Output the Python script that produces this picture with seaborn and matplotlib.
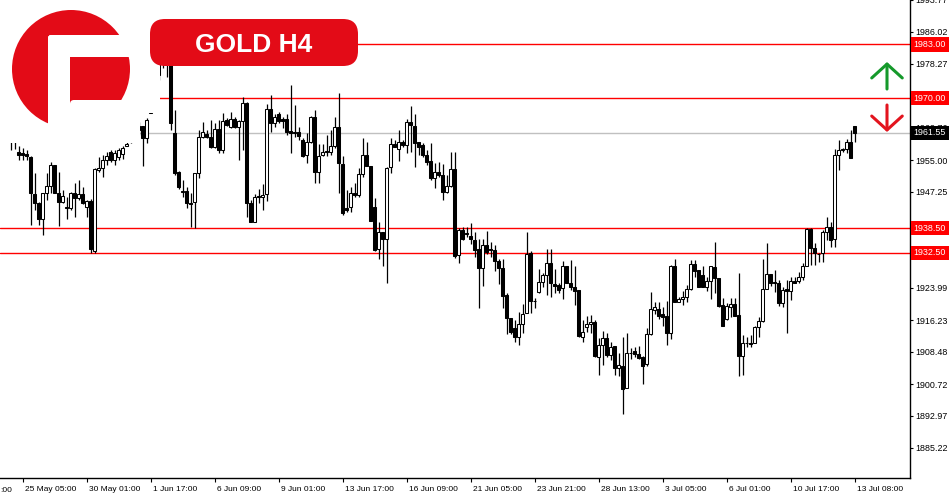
import numpy as np
import pandas as pd
import seaborn as sns
import matplotlib
matplotlib.use("Agg")
import matplotlib.pyplot as plt
import matplotlib.patches as mpatches
import matplotlib.transforms as mtransforms

# GOLD H4 candles (oldest first)
opens = [
    1960.3, 1961.8, 1962.3, 1960.8, 1957.0, 1956.7, 1956.5, 1955.7, 1946.8, 1944.6,
    1940.7, 1947.0, 1948.7, 1953.8, 1947.0, 1944.8, 1943.4, 1943.4, 1947.0, 1945.8,
    1946.8, 1943.6, 1945.1, 1932.9, 1952.6, 1953.1, 1955.0, 1956.9, 1955.0, 1955.7,
    1956.5, 1958.4, 1959.4, 1960.8, 1962.3, 1963.2, 1960.3, 1966.4, 1970.8, 1975.6,
    1979.2, 1982.9, 1983.6, 1961.5, 1952.1, 1947.3, 1947.5, 1944.6, 1944.8, 1951.9,
    1960.6, 1961.3, 1960.6, 1958.2, 1962.5, 1957.4, 1964.7, 1963.1, 1964.9, 1963.1,
    1964.5, 1968.7, 1944.5, 1940.0, 1946.3, 1946.0, 1946.7, 1967.3, 1963.9, 1966.1,
    1964.9, 1964.9, 1962.0, 1961.7, 1961.7, 1959.9, 1956.1, 1959.4, 1965.3, 1952.0,
    1956.1, 1957.2, 1956.9, 1958.4, 1963.1, 1954.0, 1943.3, 1943.7, 1947.1, 1946.4,
    1951.6, 1956.2, 1953.5, 1943.5, 1933.4, 1937.6, 1935.8, 1953.2, 1958.9, 1957.6,
    1959.3, 1958.6, 1964.3, 1963.2, 1959.3, 1958.6, 1956.2, 1954.8, 1950.6, 1952.2,
    1951.4, 1947.2, 1948.8, 1952.8, 1932.0, 1938.0, 1937.3, 1936.6, 1935.6, 1933.4,
    1928.8, 1934.4, 1933.4, 1933.2, 1930.6, 1928.8, 1922.3, 1916.6, 1914.2, 1912.2,
    1915.3, 1918.0, 1932.5, 1920.9, 1923.1, 1925.5, 1927.1, 1930.0, 1924.9, 1924.7,
    1923.9, 1929.3, 1925.3, 1924.3, 1923.5, 1912.2, 1914.6, 1915.2, 1915.8, 1907.3,
    1910.2, 1911.8, 1907.8, 1909.9, 1904.7, 1905.1, 1899.7, 1908.2, 1908.7, 1908.0,
    1907.3, 1905.5, 1912.8, 1918.7, 1918.8, 1917.7, 1917.2, 1913.2, 1929.2, 1920.7,
    1921.3, 1921.7, 1923.7, 1929.7, 1928.3, 1927.1, 1924.2, 1925.7, 1929.0, 1926.3,
    1919.9, 1916.4, 1919.3, 1920.0, 1917.4, 1907.5, 1910.7, 1910.7, 1910.7, 1914.5,
    1916.1, 1923.7, 1927.4, 1925.5, 1925.1, 1920.4, 1923.7, 1923.3, 1925.7, 1925.7,
    1926.7, 1929.2, 1938.3, 1933.6, 1932.3, 1932.4, 1937.6, 1938.8, 1935.8, 1956.2,
    1957.4, 1957.7, 1959.4, 1963.2]
highs = [
    1962.3, 1962.8, 1962.8, 1961.8, 1958.4, 1957.9, 1957.4, 1956.0, 1951.9, 1944.8,
    1947.0, 1951.9, 1954.5, 1953.8, 1952.1, 1947.7, 1946.0, 1947.3, 1949.4, 1950.2,
    1948.5, 1945.3, 1945.5, 1953.1, 1955.7, 1956.2, 1956.9, 1957.4, 1957.4, 1957.9,
    1958.4, 1959.9, 1961.8, 1963.2, 1964.2, 1963.2, 1965.2, 1972.0, 1976.8, 1981.7,
    1984.1, 1984.6, 1984.6, 1967.1, 1952.3, 1950.2, 1948.5, 1947.0, 1951.9, 1962.3,
    1964.2, 1962.3, 1964.7, 1964.0, 1964.7, 1966.4, 1965.2, 1966.7, 1965.5, 1964.7,
    1970.3, 1969.1, 1945.2, 1946.8, 1948.0, 1949.2, 1968.6, 1970.8, 1966.1, 1966.6,
    1965.5, 1966.1, 1973.2, 1968.3, 1962.9, 1960.3, 1961.5, 1965.7, 1967.1, 1958.8,
    1958.8, 1961.1, 1962.3, 1965.3, 1971.2, 1956.0, 1947.7, 1948.5, 1949.5, 1953.0,
    1960.3, 1959.4, 1953.5, 1945.7, 1940.0, 1937.6, 1953.4, 1960.3, 1959.9, 1962.3,
    1959.9, 1964.9, 1968.1, 1966.1, 1959.3, 1959.0, 1957.4, 1959.0, 1954.2, 1954.6,
    1954.0, 1951.4, 1957.0, 1957.0, 1938.5, 1938.8, 1938.8, 1939.7, 1937.6, 1935.8,
    1935.8, 1937.9, 1935.2, 1934.4, 1930.9, 1930.9, 1922.7, 1916.6, 1916.2, 1918.2,
    1920.1, 1937.6, 1933.0, 1921.5, 1928.5, 1927.5, 1933.4, 1933.4, 1928.5, 1925.1,
    1930.6, 1929.3, 1930.8, 1929.2, 1923.5, 1916.2, 1917.2, 1917.4, 1916.2, 1911.8,
    1913.6, 1913.2, 1911.0, 1909.9, 1908.2, 1912.2, 1913.2, 1909.4, 1909.6, 1909.9,
    1907.5, 1914.2, 1922.9, 1920.7, 1920.7, 1919.5, 1920.8, 1929.6, 1931.0, 1921.9,
    1923.3, 1924.7, 1930.8, 1930.8, 1928.3, 1929.2, 1926.6, 1929.3, 1935.2, 1926.3,
    1921.5, 1920.3, 1921.5, 1921.5, 1927.5, 1912.6, 1912.0, 1912.6, 1914.8, 1916.9,
    1930.9, 1934.9, 1927.4, 1928.3, 1925.9, 1924.2, 1925.9, 1926.7, 1926.7, 1927.8,
    1930.0, 1938.5, 1938.5, 1934.8, 1932.5, 1938.0, 1941.3, 1940.0, 1957.6, 1959.9,
    1957.8, 1960.0, 1962.3, 1963.2]
lows = [
    1959.8, 1960.3, 1957.4, 1957.7, 1955.0, 1955.0, 1955.0, 1939.3, 1942.9, 1939.3,
    1936.8, 1945.3, 1947.0, 1947.0, 1939.0, 1944.6, 1940.7, 1942.9, 1941.2, 1945.3,
    1944.3, 1941.2, 1932.5, 1932.5, 1952.1, 1950.9, 1953.8, 1954.5, 1953.8, 1955.0,
    1955.2, 1958.4, 1959.1, 1959.8, 1961.1, 1953.6, 1959.1, 1966.4, 1969.5, 1974.4,
    1977.3, 1975.1, 1962.3, 1951.4, 1948.0, 1946.0, 1943.4, 1938.8, 1938.5, 1950.6,
    1960.3, 1960.3, 1957.9, 1957.9, 1956.7, 1956.7, 1963.2, 1962.7, 1962.7, 1955.0,
    1957.4, 1941.1, 1940.0, 1940.0, 1944.7, 1942.9, 1945.1, 1961.9, 1963.1, 1964.0,
    1962.7, 1961.1, 1956.8, 1960.5, 1959.9, 1955.8, 1954.3, 1959.0, 1949.5, 1949.5,
    1956.0, 1956.0, 1956.2, 1957.8, 1947.0, 1941.7, 1942.5, 1942.5, 1946.1, 1946.0,
    1951.0, 1953.5, 1940.3, 1933.0, 1930.9, 1929.2, 1925.1, 1951.8, 1958.1, 1954.8,
    1958.2, 1956.6, 1956.9, 1953.4, 1956.2, 1955.8, 1953.8, 1950.2, 1948.1, 1951.0,
    1945.3, 1947.0, 1948.5, 1931.2, 1930.0, 1935.6, 1936.3, 1934.7, 1931.4, 1919.2,
    1924.5, 1932.2, 1931.4, 1928.2, 1924.9, 1919.2, 1912.8, 1912.8, 1911.0, 1910.2,
    1913.2, 1918.0, 1918.0, 1919.1, 1922.7, 1924.2, 1922.3, 1921.7, 1922.7, 1922.8,
    1921.3, 1925.1, 1923.5, 1919.9, 1912.2, 1911.0, 1913.4, 1913.0, 1907.3, 1902.9,
    1905.3, 1907.3, 1906.5, 1902.9, 1902.7, 1893.5, 1899.7, 1906.7, 1907.2, 1906.9,
    1900.7, 1905.1, 1912.6, 1917.8, 1916.4, 1914.8, 1910.2, 1911.6, 1920.7, 1920.7,
    1919.9, 1920.7, 1923.5, 1926.6, 1924.2, 1924.2, 1923.3, 1921.3, 1922.7, 1919.3,
    1914.8, 1916.2, 1917.0, 1917.2, 1902.7, 1902.9, 1909.8, 1909.8, 1910.6, 1912.2,
    1915.8, 1923.7, 1924.5, 1923.1, 1919.6, 1919.5, 1913.0, 1921.1, 1925.1, 1925.2,
    1925.9, 1929.2, 1929.6, 1929.6, 1930.4, 1930.4, 1935.6, 1934.0, 1934.0, 1952.6,
    1957.0, 1956.6, 1955.4, 1959.4]
closes = [
    1961.8, 1962.3, 1960.8, 1959.8, 1956.2, 1956.2, 1956.0, 1947.0, 1944.6, 1940.7,
    1947.0, 1948.7, 1953.8, 1947.0, 1944.8, 1946.3, 1943.6, 1947.0, 1945.8, 1946.8,
    1944.6, 1945.1, 1933.4, 1952.8, 1953.1, 1955.0, 1956.0, 1955.0, 1956.7, 1957.4,
    1957.9, 1958.9, 1960.8, 1962.3, 1963.2, 1960.3, 1964.7, 1970.8, 1975.6, 1979.2,
    1982.9, 1983.6, 1964.0, 1951.9, 1948.5, 1947.5, 1944.6, 1944.3, 1951.9, 1960.6,
    1961.8, 1960.6, 1958.2, 1962.5, 1957.4, 1964.5, 1963.5, 1964.9, 1963.1, 1964.5,
    1968.7, 1944.7, 1940.0, 1946.0, 1946.0, 1946.5, 1967.3, 1964.0, 1965.3, 1964.5,
    1964.5, 1961.9, 1961.6, 1961.6, 1960.9, 1956.0, 1959.4, 1965.3, 1952.2, 1956.0,
    1956.9, 1956.9, 1958.4, 1963.1, 1954.2, 1942.1, 1942.9, 1947.0, 1946.4, 1951.6,
    1956.2, 1953.5, 1940.3, 1933.2, 1937.6, 1935.9, 1953.0, 1958.9, 1958.2, 1959.3,
    1958.6, 1964.3, 1963.5, 1959.2, 1958.1, 1956.2, 1954.6, 1950.6, 1952.2, 1951.3,
    1947.2, 1948.8, 1952.8, 1931.7, 1938.0, 1935.8, 1937.1, 1935.8, 1933.2, 1928.8,
    1934.4, 1932.8, 1933.3, 1930.6, 1928.8, 1922.0, 1916.6, 1913.4, 1912.2, 1915.3,
    1917.8, 1932.2, 1920.9, 1920.8, 1925.4, 1927.1, 1930.0, 1925.1, 1924.5, 1923.5,
    1929.3, 1925.1, 1924.3, 1923.3, 1912.4, 1913.4, 1915.3, 1915.8, 1907.5, 1910.2,
    1911.8, 1907.8, 1909.8, 1904.7, 1905.3, 1899.5, 1908.2, 1908.3, 1908.0, 1907.1,
    1905.1, 1912.8, 1918.9, 1919.5, 1917.2, 1917.0, 1913.2, 1929.3, 1920.7, 1921.3,
    1921.9, 1923.7, 1929.7, 1928.2, 1924.2, 1924.2, 1925.7, 1929.2, 1926.3, 1919.6,
    1914.8, 1919.6, 1920.0, 1917.2, 1907.5, 1910.7, 1910.7, 1910.4, 1914.6, 1916.1,
    1923.7, 1927.4, 1925.3, 1925.1, 1920.4, 1923.5, 1923.3, 1925.7, 1925.1, 1926.7,
    1929.2, 1938.3, 1933.6, 1932.4, 1932.2, 1937.6, 1938.7, 1935.6, 1956.2, 1957.4,
    1957.7, 1959.4, 1955.4, 1961.55]

date_labels = ["25 May 05:00", "30 May 01:00", "1 Jun 17:00", "6 Jun 09:00",
               "9 Jun 01:00", "13 Jun 17:00", "16 Jun 09:00", "21 Jun 05:00",
               "23 Jun 21:00", "28 Jun 13:00", "3 Jul 05:00", "6 Jul 01:00",
               "10 Jul 17:00", "13 Jul 08:00"]
price_ticks = [1993.77, 1986.02, 1978.27, 1970.51, 1962.76, 1955.00, 1947.25,
               1939.49, 1931.74, 1923.99, 1916.23, 1908.48, 1900.72, 1892.97, 1885.22]
levels = [1983.00, 1970.00, 1938.50, 1932.50]
last_price = 1961.55
title = "GOLD H4"

sns.set_theme(style="white")
plt.rcParams['font.family'] = ['Liberation Sans', 'DejaVu Sans']

df = pd.DataFrame({"open": opens, "high": highs, "low": lows, "close": closes})
df["idx"] = np.arange(len(df))
df["up"] = df["close"] >= df["open"]

RED = "#e30b17"
LINE_RED = "#ff0000"

fig = plt.figure(figsize=(9.5, 5), dpi=100, facecolor="white")
ax = fig.add_axes([0, 22 / 500, 910 / 950, 478 / 500])
ax.set_facecolor("white")

# wicks then bodies
ax.vlines(df["idx"], df["low"], df["high"], color="black", lw=0.9, zorder=2)
ax.bar(df["idx"], (df["close"] - df["open"]).abs(),
       bottom=df[["open", "close"]].min(axis=1), width=0.7,
       color=np.where(df["up"], "white", "black"), edgecolor="black",
       linewidth=0.75, zorder=3)

for lvl in levels:
    ax.axhline(lvl, color=LINE_RED, lw=1, zorder=1)
ax.axhline(last_price, color="#c0c0c0", lw=1, zorder=1)

ax.set_xlim(-0.625, 226.875)
ax.set_ylim(1993.77 - 478 * 0.24231, 1993.77)

# axes styling (MT4 look)
for s in ["left", "top"]:
    ax.spines[s].set_visible(False)
for s in ["right", "bottom"]:
    ax.spines[s].set_color("black")
    ax.spines[s].set_linewidth(1)

ax.yaxis.tick_right()
ax.set_yticks(price_ticks)
ax.set_yticklabels([f"{v:.2f}" for v in price_ticks])
ax.tick_params(axis="y", right=True, left=False, length=2.5, width=0.8,
               pad=1.5, labelsize=6.4, colors="black")
xpos = [5 + 16 * k for k in range(len(date_labels))]
ax.set_xticks(xpos)
ax.set_xticklabels(date_labels)
ax.tick_params(axis="x", bottom=True, length=3, width=0.8, pad=2.5,
               labelsize=6.0, colors="black")
shift = mtransforms.ScaledTranslation(2.0 / 72, 0, fig.dpi_scale_trans)
for lab in ax.get_xticklabels():
    lab.set_horizontalalignment("left")
    lab.set_transform(lab.get_transform() + shift)

# price tags on the right axis
trans = mtransforms.blended_transform_factory(ax.transAxes, ax.transData)
for lvl in levels:
    ax.text(1 + 20 / 910, lvl, f"{lvl:.2f}", transform=trans, ha="center",
            va="center", color="white", fontsize=6.4, clip_on=False, zorder=10,
            bbox=dict(boxstyle="square,pad=0.3", fc=LINE_RED, ec="none"))
ax.text(1 + 20 / 910, last_price, f"{last_price:.2f}", transform=trans,
        ha="center", va="center", color="white", fontsize=6.4, clip_on=False,
        zorder=10, bbox=dict(boxstyle="square,pad=0.3", fc="black", ec="none"))

# overlay in pixel coordinates: logo, title badge, arrows
ov = fig.add_axes([0, 0, 1, 1], zorder=5)
ov.set_xlim(0, 950)
ov.set_ylim(500, 0)
ov.axis("off")
ov.patch.set_alpha(0)

ov.add_patch(mpatches.Polygon([(0, 0), (160, 0), (160, 113), (140, 113),
                               (140, 143), (0, 143)], closed=True,
                              fc="white", ec="none"))
ov.add_patch(mpatches.Circle((71, 69), 59, fc=RED, ec="none"))
ov.add_patch(mpatches.FancyBboxPatch((48, 35), 95, 22,
                                     boxstyle="round,pad=0,rounding_size=3",
                                     fc="white", ec="none"))
ov.add_patch(mpatches.FancyBboxPatch((48, 35), 22, 100,
                                     boxstyle="round,pad=0,rounding_size=3",
                                     fc="white", ec="none"))
ov.add_patch(mpatches.FancyBboxPatch((70, 100), 70, 40,
                                     boxstyle="round,pad=0,rounding_size=4",
                                     fc="white", ec="none"))
ov.add_patch(mpatches.Rectangle((60, 105), 30, 35, fc="white", ec="none"))

ov.add_patch(mpatches.FancyBboxPatch((150, 19), 208, 47,
                                     boxstyle="round,pad=0,rounding_size=15",
                                     fc=RED, ec="none"))
ov.text(254, 52.5, title, color="white", fontsize=19, fontweight="bold",
        ha="center", va="baseline")

ov.annotate("", xy=(887, 62), xytext=(887, 89),
            arrowprops=dict(arrowstyle="->,head_length=0.5,head_width=0.55",
                            color="#15992b", lw=2.2, mutation_scale=20,
                            shrinkA=0, shrinkB=0))
ov.annotate("", xy=(887, 132), xytext=(887, 105),
            arrowprops=dict(arrowstyle="->,head_length=0.5,head_width=0.55",
                            color="#e3141e", lw=2.2, mutation_scale=20,
                            shrinkA=0, shrinkB=0))

ov.text(0, 491, ":00", fontsize=6.0, ha="left", va="center", color="black")

fig.savefig("out.png", dpi=100, facecolor="white")
